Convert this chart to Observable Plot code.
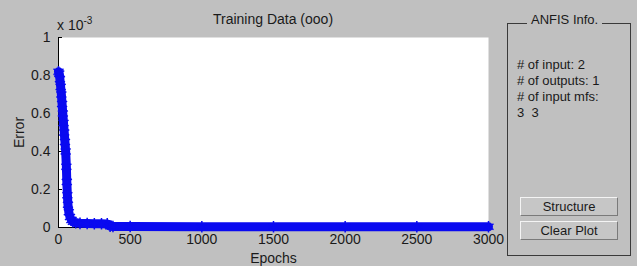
<!DOCTYPE html>
<html>
<head>
<meta charset="utf-8">
<script src="https://cdn.jsdelivr.net/npm/d3@7"></script>
<script src="https://cdn.jsdelivr.net/npm/@observablehq/plot@0.6"></script>
<style>
  html, body { margin: 0; padding: 0; background: #c0c0c0; }
  #wrap { position: relative; width: 637px; height: 266px; overflow: hidden; background: #c0c0c0;
          font-family: "Liberation Sans", Arial, sans-serif; color: #1a1a1a; }
  .abs { position: absolute; white-space: pre; }
  .btn { position: absolute; box-sizing: border-box; background: #c6c6c6; text-align: center;
         border-top: 1px solid #f4f4f4; border-left: 1px solid #f4f4f4;
         border-right: 1px solid #7a7a7a; border-bottom: 1px solid #7a7a7a; font-size: 13px; }
</style>
</head>
<body>
<div id="wrap"></div>
<script>
// Training error (units of 1e-3)
const epochs = [0, 5, 10, 15, 20, 25, 30, 35, 40, 45, 50, 55, 58, 62, 66, 72, 80, 90, 100, 120, 150, 200, 250, 300, 340, 360, 380, 500, 1000, 1500, 2000, 2500, 3000];
const errors = [0.82, 0.81, 0.78, 0.74, 0.70, 0.65, 0.60, 0.55, 0.50, 0.45, 0.40, 0.32, 0.24, 0.17, 0.12, 0.08, 0.055, 0.04, 0.03, 0.025, 0.022, 0.021, 0.02, 0.02, 0.019, 0.007, 0.005, 0.005, 0.004, 0.004, 0.004, 0.004, 0.004];
const xTicks = [0, 500, 1000, 1500, 2000, 2500, 3000];
const yTicks = [0, 0.2, 0.4, 0.6, 0.8, 1];
const chartTitle = "Training Data (ooo)";
const panelTitle = "ANFIS Info.";
const panelLines = ["# of input: 2", "# of outputs: 1", "# of input mfs:", "3  3"];
const buttons = ["Structure", "Clear Plot"];

const data = epochs.map((e, i) => ({epoch: e, error: errors[i]}));
const blue = "#0a0af0";

const chart = Plot.plot({
  width: 637,
  height: 266,
  marginLeft: 58,
  marginRight: 149,
  marginTop: 37,
  marginBottom: 39,
  style: {background: "#c0c0c0", fontFamily: "'Liberation Sans', Arial, sans-serif", color: "#1a1a1a"},
  x: {domain: [0, 3000]},
  y: {domain: [0, 1]},
  marks: [
    Plot.frame({fill: "white", stroke: null}),
    Plot.axisX({ticks: xTicks, tickFormat: d => String(d), tickSize: 0, tickPadding: 7, fontSize: 14,
                label: "Epochs", labelAnchor: "center", labelArrow: "none", labelOffset: 35}),
    Plot.axisY({ticks: yTicks, tickFormat: d => String(d), tickSize: -4, tickPadding: 12, fontSize: 14,
                stroke: "black", label: "Error", labelAnchor: "center", labelArrow: "none", labelOffset: 44}),
    Plot.ruleX([0], {y1: 0, y2: 1, stroke: "black"}),
    Plot.ruleY([0], {stroke: "black"}),
    Plot.line(data, {x: "epoch", y: "error", stroke: blue, strokeWidth: 9, strokeLinejoin: "round", strokeLinecap: "round"}),
    Plot.dot(data, {x: "epoch", y: "error", symbol: "asterisk", r: 5.5, stroke: blue, strokeWidth: 1.5})
  ]
});

const wrap = document.getElementById("wrap");
chart.style.position = "absolute";
chart.style.left = "0px";
chart.style.top = "0px";
wrap.appendChild(chart);

function addText(txt, left, top, size, extra) {
  const d = document.createElement("div");
  d.className = "abs";
  d.textContent = txt;
  d.style.left = left + "px";
  d.style.top = top + "px";
  d.style.fontSize = size + "px";
  if (extra) Object.assign(d.style, extra);
  wrap.appendChild(d);
  return d;
}

// title
addText(chartTitle, 193, 11, 14, {width: "160px", textAlign: "center"});
// exponent label
const ex = addText("x 10", 57, 15, 14);
const sup = document.createElement("sup");
sup.textContent = "-3";
sup.style.fontSize = "10px";
ex.appendChild(sup);

// panel frame
const frame = document.createElement("div");
Object.assign(frame.style, {position: "absolute", left: "507px", top: "23px", width: "124px", height: "233px",
  border: "1px solid #3a3a3a", boxSizing: "border-box"});
wrap.appendChild(frame);
addText(panelTitle, 527, 12, 13, {background: "#c0c0c0", padding: "0 4px"});
panelLines.forEach((t, i) => addText(t, 517, 57 + i * 16, 13));
buttons.forEach((t, i) => {
  const b = document.createElement("div");
  b.className = "btn";
  b.textContent = t;
  Object.assign(b.style, {left: "520px", top: (197 + i * 24) + "px", width: "98px", height: "19px", lineHeight: "17px"});
  wrap.appendChild(b);
});
</script>
</body>
</html>
